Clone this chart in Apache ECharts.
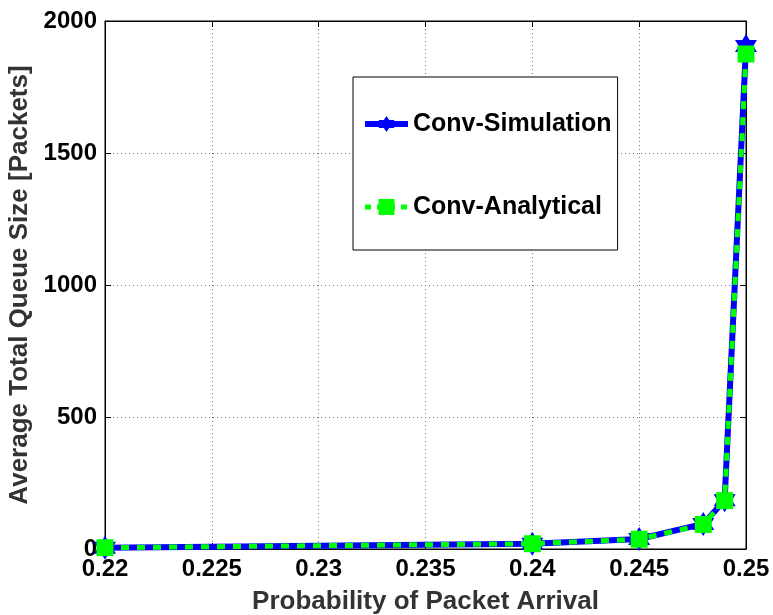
<!DOCTYPE html>
<html>
<head>
<meta charset="utf-8">
<script src="https://cdn.jsdelivr.net/npm/echarts@6/dist/echarts.min.js"></script>
<style>
  html, body { margin: 0; padding: 0; background: #fff; }
  #chart { width: 773px; height: 615px; }
</style>
</head>
<body>
<div id="chart"></div>
<script>
// Arrival probabilities and the average total queue size at each
const arrivalProb = [0.22, 0.24, 0.245, 0.248, 0.249, 0.25];
const simQueue = [5, 20, 38, 95, 185, 1905];
const analyticQueue = [5, 20, 37, 93, 183, 1875];
const xTicks = [0.22, 0.225, 0.23, 0.235, 0.24, 0.245, 0.25];
const yTicks = [0, 500, 1000, 1500, 2000];

// six-pointed star (hexagram) outline
const hexagram = 'path://M100,0 L128.9,50 L186.6,50 L157.7,100 L186.6,150 L128.9,150 L100,200 L71.1,150 L13.4,150 L42.3,100 L13.4,50 L71.1,50 Z';

const font = 'Liberation Sans, Arial, Helvetica, sans-serif';
const pairs = (xs, ys) => xs.map((x, i) => [x, ys[i]]);
const dotted = { show: true, lineStyle: { color: '#777', type: [1, 3], width: 1 } };
const inTick = { show: true, inside: true, length: 6, lineStyle: { color: '#000' } };

const chart = echarts.init(document.getElementById('chart'), null, { renderer: 'canvas' });
chart.setOption({
  animation: false,
  backgroundColor: '#fff',
  grid: {
    left: 105, right: 27, top: 21, bottom: 66,
    containLabel: false,
    outerBoundsMode: 'none',
    show: true, borderColor: '#000', borderWidth: 1
  },
  legend: {
    orient: 'vertical',
    left: 353, top: 77,
    padding: [34, 6, 30, 9],
    itemGap: 57,
    itemWidth: 43, itemHeight: 20,
    borderColor: '#000', borderWidth: 1,
    backgroundColor: '#fff',
    textStyle: { fontFamily: font, fontWeight: 'bold', fontSize: 25, color: '#000', lineHeight: 26 },
    data: [
      { name: 'Conv-Simulation', lineStyle: { width: 6 } },
      { name: 'Conv-Analytical', lineStyle: { width: 5, type: [6, 6] } }
    ]
  },
  xAxis: [
    {
      type: 'value',
      min: xTicks[0], max: xTicks[xTicks.length - 1], interval: 0.005,
      name: 'Probability of Packet Arrival',
      nameLocation: 'middle', nameGap: 40,
      nameTextStyle: { fontFamily: font, fontWeight: 'bold', fontSize: 26, color: '#333' },
      axisLine: { show: true, onZero: false, lineStyle: { color: '#000', width: 1 } },
      axisTick: inTick,
      axisLabel: {
        fontFamily: font, fontWeight: 'bold', fontSize: 24, color: '#000', margin: 8,
        formatter: v => String(parseFloat(v.toFixed(3)))
      },
      splitLine: dotted
    },
    {
      type: 'value', position: 'top',
      min: xTicks[0], max: xTicks[xTicks.length - 1], interval: 0.005,
      axisLine: { show: true, onZero: false, lineStyle: { color: '#000' } },
      axisTick: inTick, axisLabel: { show: false }, splitLine: { show: false }
    }
  ],
  yAxis: [
    {
      type: 'value',
      min: yTicks[0], max: yTicks[yTicks.length - 1], interval: 500,
      name: 'Average Total Queue Size [Packets]',
      nameLocation: 'middle', nameGap: 71,
      nameTextStyle: { fontFamily: font, fontWeight: 'bold', fontSize: 26, color: '#333' },
      axisLine: { show: true, lineStyle: { color: '#000', width: 1 } },
      axisTick: inTick,
      axisLabel: {
        fontFamily: font, fontWeight: 'bold', fontSize: 24, color: '#000', margin: 8,
        formatter: v => String(v)
      },
      splitLine: dotted
    },
    {
      type: 'value', position: 'right',
      min: yTicks[0], max: yTicks[yTicks.length - 1], interval: 500,
      axisLine: { show: true, onZero: false, lineStyle: { color: '#000' } },
      axisTick: inTick, axisLabel: { show: false }, splitLine: { show: false }
    }
  ],
  series: [
    {
      name: 'Conv-Simulation',
      type: 'line',
      data: pairs(arrivalProb, simQueue),
      symbol: hexagram,
      symbolSize: [22, 24],
      itemStyle: { color: '#0000ff' },
      lineStyle: { color: '#0000ff', width: 6 },
      z: 2
    },
    {
      name: 'Conv-Analytical',
      type: 'line',
      data: pairs(arrivalProb, analyticQueue),
      symbol: 'rect',
      symbolSize: 17,
      itemStyle: { color: '#00ff00' },
      lineStyle: { color: '#00ff00', width: 5, type: [8, 8] },
      z: 3
    }
  ]
});
</script>
</body>
</html>
